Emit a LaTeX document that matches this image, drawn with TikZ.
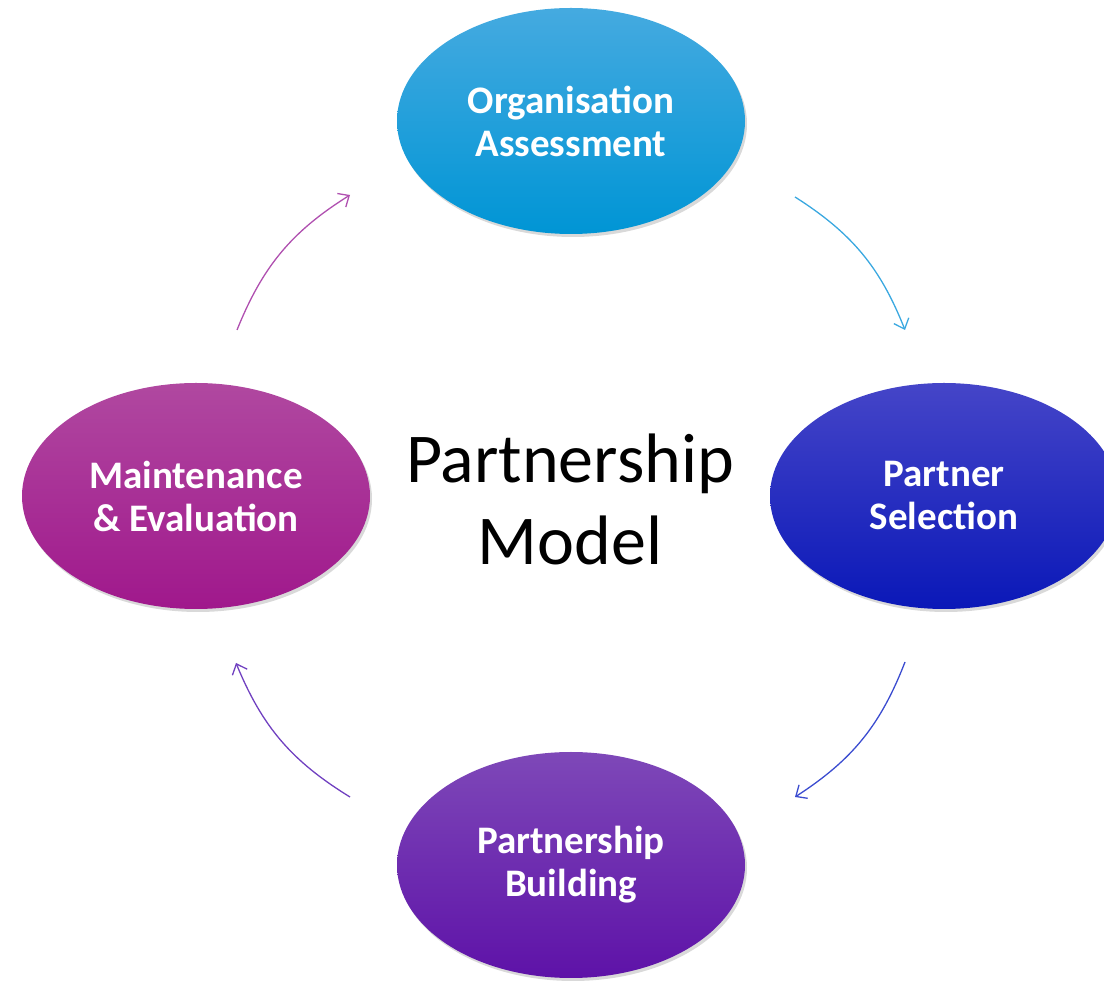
\documentclass[tikz,border=0pt]{standalone}
\usepackage{fontspec}
\setmainfont{Carlito}
\usetikzlibrary{shapes.geometric,shadows,arrows.meta}

\definecolor{assessTop}{HTML}{45AAE0}
\definecolor{assessBot}{HTML}{0095D5}
\definecolor{selectTop}{HTML}{4545C8}
\definecolor{selectBot}{HTML}{0A18B8}
\definecolor{buildTop}{HTML}{7E48B8}
\definecolor{buildBot}{HTML}{5E12A8}
\definecolor{maintTop}{HTML}{B048A0}
\definecolor{maintBot}{HTML}{A0188C}
\definecolor{arrowA}{HTML}{3AA8E0}
\definecolor{arrowB}{HTML}{3B4CD0}
\definecolor{arrowC}{HTML}{7040C0}
\definecolor{arrowD}{HTML}{B050B0}

\tikzset{
  stage/.style={ellipse, minimum width=348pt, minimum height=226pt, inner sep=0pt,
    text=white, align=center, font=\fontsize{39}{43}\selectfont\bfseries,
    drop shadow={opacity=0.3, shadow xshift=2pt, shadow yshift=-3pt}},
  cyclearrow/.style={line width=1.3pt, -{Straight Barb[length=9pt,width=16pt]}}
}

\begin{document}
\begin{tikzpicture}[x=1pt,y=1pt]
            \useasboundingbox (0,0) rectangle (1104,983);
            \clip (0,0) rectangle (1104,983);

            \node[stage, top color=assessTop, bottom color=assessBot] (assess) at (571, 862) {Organisation\\Assessment};
            \node[stage, top color=selectTop, bottom color=selectBot] (select) at (944, 487) {Partner\\Selection};
            \node[stage, top color=buildTop, bottom color=buildBot] (build) at (571, 118) {Partnership\\Building};
            \node[stage, top color=maintTop, bottom color=maintBot] (maint) at (196, 487) {Maintenance\\\& Evaluation};

            \node[align=center, font=\fontsize{70}{82}\selectfont] (model) at (570, 484) {Partnership\\Model};

            \coordinate (a1) at (795, 786);
            \coordinate (a2) at (905, 653);
            \coordinate (b1) at (905, 321);
            \coordinate (b2) at (795, 186);
            \coordinate (c1) at (350, 186);
            \coordinate (c2) at (236, 320);
            \coordinate (d1) at (237, 653);
            \coordinate (d2) at (350, 788);

            \draw[cyclearrow, arrowA] (a1) to[bend left=18] (a2); % assess-select
            \draw[cyclearrow, arrowB] (b1) to[bend left=18] (b2); % select-build
            \draw[cyclearrow, arrowC] (c1) to[bend left=18] (c2); % build-maint
            \draw[cyclearrow, arrowD] (d1) to[bend left=18] (d2); % maint-assess
        \end{tikzpicture}
\end{document}
